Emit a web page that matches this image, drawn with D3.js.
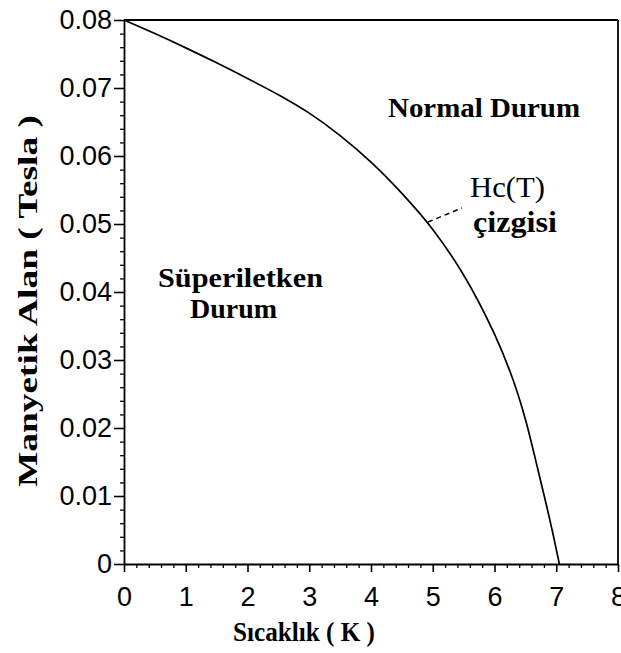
<!DOCTYPE html>
<html><head><meta charset="utf-8">
<script src="https://cdn.jsdelivr.net/npm/d3@7"></script>
<style>html,body{margin:0;padding:0;background:#fff;}</style>
</head><body>
<script>
// Data
const temps = [0, 0.5, 1.0, 1.5, 2.0, 2.5, 3.0, 3.5, 4.0, 4.5, 5.0, 5.5, 6.0, 6.3, 6.5, 6.7, 6.85, 6.95, 7.05];
const fields = [0.0800, 0.0780, 0.0759, 0.0737, 0.0714, 0.0690, 0.0663, 0.0630, 0.0591, 0.0545, 0.0492, 0.0425, 0.0338, 0.0271, 0.0213, 0.0140, 0.0083, 0.0043, 0.0];
const xTicks = [0,1,2,3,4,5,6,7,8];
const yTicks = [0,0.01,0.02,0.03,0.04,0.05,0.06,0.07,0.08];
const yTickLabels = ["0","0.01","0.02","0.03","0.04","0.05","0.06","0.07","0.08"];
const xTitle = "Sıcaklık ( K )";
const yTitle = "Manyetik Alan ( Tesla )";

const W = 621, H = 653;
const svg = d3.select("body").append("svg").attr("width", W).attr("height", H);

const x = d3.scaleLinear().domain([0, 8]).range([124, 618]);
const y = d3.scaleLinear().domain([0, 0.08]).range([564, 20]);

const sans = "'Liberation Sans', Arial, sans-serif";
const serif = "'Liberation Serif', 'Times New Roman', serif";

// minor ticks
const xMinor = d3.range(0, 8.001, 0.2).filter(v => Math.abs(v - Math.round(v)) > 1e-6);
const yMinor = d3.range(0, 0.0801, 0.002).filter(v => Math.abs(v*100 - Math.round(v*100)) > 1e-6);

svg.append("g").attr("transform", `translate(0,${y(0)})`)
  .call(d3.axisBottom(x).tickValues(xMinor).tickSize(4).tickFormat(""))
  .call(g => g.select(".domain").remove())
  .selectAll("line").attr("stroke", "#000").attr("stroke-width", 1.3);
svg.append("g").attr("transform", `translate(${x(0)},0)`)
  .call(d3.axisLeft(y).tickValues(yMinor).tickSize(4).tickFormat(""))
  .call(g => g.select(".domain").remove())
  .selectAll("line").attr("stroke", "#000").attr("stroke-width", 1.3);

const xa = svg.append("g").attr("transform", `translate(0,${y(0)})`)
  .call(d3.axisBottom(x).tickValues(xTicks).tickSize(8).tickSizeOuter(0).tickPadding(15).tickFormat(d3.format("d")));
xa.select(".domain").attr("stroke", "#000").attr("stroke-width", 1.8);
xa.selectAll("line").attr("stroke", "#000").attr("stroke-width", 1.6);
xa.selectAll("text").attr("font-family", sans).attr("font-size", 27).attr("fill", "#000");

const ya = svg.append("g").attr("transform", `translate(${x(0)},0)`)
  .call(d3.axisLeft(y).tickValues(yTicks).tickSize(10).tickSizeOuter(0).tickPadding(2).tickFormat((d,i) => yTickLabels[i]));
ya.select(".domain").attr("stroke", "#000").attr("stroke-width", 1.8);
ya.selectAll("line").attr("stroke", "#000").attr("stroke-width", 1.6);
ya.selectAll("text").attr("font-family", sans).attr("font-size", 27).attr("fill", "#000");

// frame top and right
svg.append("line").attr("x1", x(0)).attr("x2", x(8)).attr("y1", y(0.08)).attr("y2", y(0.08))
  .attr("stroke", "#000").attr("stroke-width", 1.8);
svg.append("line").attr("x1", x(8)).attr("x2", x(8)).attr("y1", y(0.08)).attr("y2", y(0))
  .attr("stroke", "#000").attr("stroke-width", 1.8);

// curve
const pts = temps.map((t, i) => [t, fields[i]]);
svg.append("path").datum(pts)
  .attr("d", d3.line().x(d => x(d[0])).y(d => y(d[1])).curve(d3.curveCatmullRom.alpha(0.5)))
  .attr("fill", "none").attr("stroke", "#000").attr("stroke-width", 1.7);

// leader dashes
svg.append("line").attr("x1", 428).attr("y1", 222).attr("x2", 462).attr("y2", 208)
  .attr("stroke", "#000").attr("stroke-width", 1.5).attr("stroke-dasharray", "5,4");

function label(txt, xx, yy, len, size, weight) {
  svg.append("text").attr("x", xx).attr("y", yy).text(txt)
    .attr("font-family", serif).attr("font-size", size).attr("font-weight", weight)
    .attr("textLength", len).attr("lengthAdjust", "spacingAndGlyphs").attr("fill", "#000");
}
label("Normal Durum", 388, 117, 192, 28, "bold");
label("Süperiletken", 158, 287, 165, 28, "bold");
label("Durum", 190, 318, 87, 28, "bold");
label("Hc(T)", 470, 197, 75, 30, "normal");
label("çizgisi", 473, 232, 84, 30, "bold");

label(xTitle, 233, 641, 142, 28, "bold");
svg.append("text").attr("transform", "translate(37,487) rotate(-90)").text(yTitle)
  .attr("font-family", serif).attr("font-size", 27).attr("font-weight", "bold")
  .attr("textLength", 372).attr("lengthAdjust", "spacingAndGlyphs").attr("fill", "#000");
</script>
</body></html>
